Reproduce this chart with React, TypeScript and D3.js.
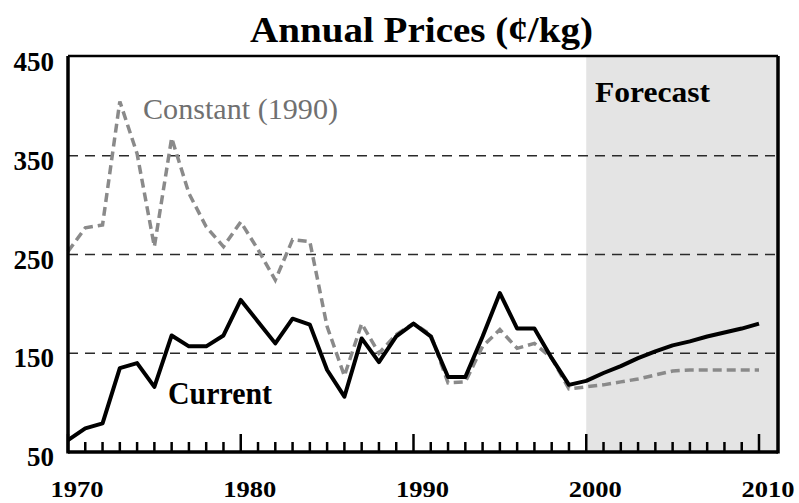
import React from "react";
import * as d3 from "d3";

const years = [
  1970, 1971, 1972, 1973, 1974, 1975, 1976, 1977, 1978, 1979,
  1980, 1981, 1982, 1983, 1984, 1985, 1986, 1987, 1988, 1989,
  1990, 1991, 1992, 1993, 1994, 1995, 1996, 1997, 1998, 1999,
  2000, 2001, 2002, 2003, 2004, 2005, 2006, 2007, 2008, 2009, 2010,
];

const current = [
  62, 74, 79, 135, 140, 116, 168, 157, 157, 168,
  204, 182, 160, 185, 179, 133, 106, 165, 141, 167,
  180, 167, 126, 126, 167, 211, 175, 175, 145, 118,
  122, 130, 137, 145, 152, 158, 162, 167, 171, 175, 180,
];

const constant = [
  253, 277, 280, 405, 352, 258, 368, 312, 278, 258,
  283, 255, 224, 265, 263, 177, 127, 180, 150, 169,
  180, 169, 120, 121, 157, 174, 155, 160, 145, 114,
  116, 118, 121, 124, 128, 132, 133, 133, 133, 133, 133,
];

const yTickValues = [50, 150, 250, 350, 450];
const gridValues = [150, 250, 350];
const xLabelYears = [1970, 1980, 1990, 2000, 2010];
const forecastStart = 2000;

const W = 799;
const H = 503;
const left = 68;
const right = 778;
const top = 56;
const bottom = 452;

export default function App() {
  const x = d3.scaleLinear().domain([1970, 2011.1]).range([left, right]);
  const y = d3.scaleLinear().domain([50, 450]).range([bottom, 57]);

  const line = d3
    .line<number>()
    .x((_, i) => x(years[i]))
    .y((d) => y(d));

  const serif = "'Liberation Serif', 'DejaVu Serif', serif";

  return (
    <svg
      width={W}
      height={H}
      style={{ position: "absolute", left: 0, top: 0, background: "#fff" }}
      fontFamily={serif}
    >
      <rect x={0} y={0} width={W} height={H} fill="#fff" />
      {/* Forecast shading */}
      <rect
        x={x(forecastStart)}
        y={top}
        width={right - x(forecastStart)}
        height={bottom - top}
        fill="#e4e4e4"
      />
      {/* gridlines */}
      {gridValues.map((v) => (
        <line
          key={v}
          x1={left}
          x2={right}
          y1={y(v)}
          y2={y(v)}
          stroke="#2a2a2a"
          strokeWidth={1.6}
          strokeDasharray="10,7"
        />
      ))}
      {/* constant line */}
      <path
        d={line(constant) || ""}
        fill="none"
        stroke="#8a8a8a"
        strokeWidth={3.5}
        strokeDasharray="9,5"
      />
      {/* current line */}
      <path
        d={line(current) || ""}
        fill="none"
        stroke="#000"
        strokeWidth={4}
        strokeLinejoin="round"
      />
      {/* frame */}
      <line x1={left} x2={right} y1={top} y2={top} stroke="#000" strokeWidth={2.5} />
      <line x1={left} x2={left} y1={top} y2={bottom + 1.5} stroke="#000" strokeWidth={3.5} />
      <line x1={right} x2={right} y1={top} y2={bottom + 1.5} stroke="#000" strokeWidth={3.5} />
      <line x1={left} x2={right} y1={bottom} y2={bottom} stroke="#000" strokeWidth={3.5} />
      {/* ticks */}
      {years.map((yr) => {
        const major = xLabelYears.includes(yr);
        return (
          <line
            key={yr}
            x1={x(yr)}
            x2={x(yr)}
            y1={bottom}
            y2={bottom - (major ? 18 : 10)}
            stroke="#000"
            strokeWidth={2.5}
          />
        );
      })}
      {/* y labels */}
      {yTickValues.map((v) => (
        <text
          key={v}
          x={54}
          y={y(v) + 14}
          textAnchor="end"
          fontSize={27}
          fontWeight="bold"
          fill="#000"
        >
          {v}
        </text>
      ))}
      {/* x labels */}
      {xLabelYears.map((yr) => (
        <text
          key={yr}
          x={x(yr) + 9}
          y={497}
          textAnchor="middle"
          fontSize={24}
          fontWeight="bold"
          fill="#000"
          textLength={53}
          lengthAdjust="spacingAndGlyphs"
        >
          {yr}
        </text>
      ))}
      {/* title */}
      <text
        x={250}
        y={42}
        fontSize={35}
        fontWeight="bold"
        fill="#000"
        textLength={343}
        lengthAdjust="spacingAndGlyphs"
      >
        Annual Prices (¢/kg)
      </text>
      <text
        x={143}
        y={119}
        fontSize={30}
        fill="#707070"
        textLength={195}
        lengthAdjust="spacingAndGlyphs"
      >
        Constant (1990)
      </text>
      <text
        x={168}
        y={404}
        fontSize={31}
        fontWeight="bold"
        fill="#000"
        textLength={104}
        lengthAdjust="spacingAndGlyphs"
      >
        Current
      </text>
      <text
        x={595}
        y={102}
        fontSize={29}
        fontWeight="bold"
        fill="#000"
        textLength={115}
        lengthAdjust="spacingAndGlyphs"
      >
        Forecast
      </text>
    </svg>
  );
}
